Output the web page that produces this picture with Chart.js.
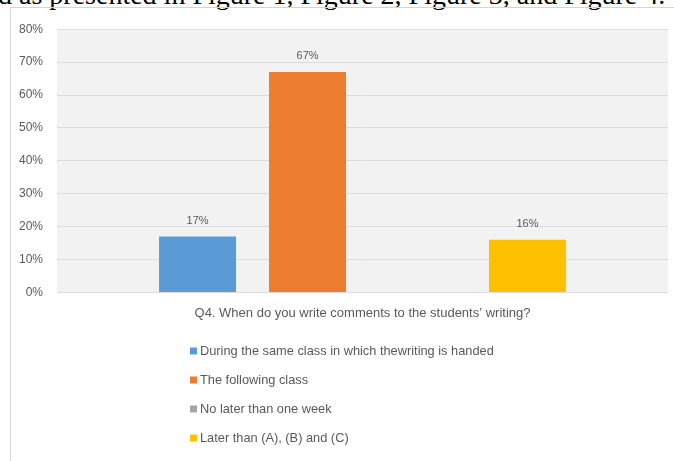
<!DOCTYPE html>
<html>
<head>
<meta charset="utf-8">
<script src="https://cdn.jsdelivr.net/npm/chart.js@4"></script>
<style>
  body { margin: 0; background: #fff; width: 674px; height: 461px; overflow: hidden; position: relative; }
  #pagetext { position: absolute; left: -2px; top: -21px; font-family: "Liberation Serif", serif; font-size: 28px; white-space: nowrap; color: #000; }
  #frame { position: absolute; left: 10px; top: 7px; width: 663px; height: 453px; border-left: 1px solid #d4d4d4; border-top: 1px solid #d4d4d4; }
</style>
</head>
<body>
<div id="pagetext">d as presented in Figure 1, Figure 2, Figure 3, and Figure 4.</div>
<div id="frame"><canvas id="chart_canvas" width="663" height="453"></canvas></div>
<script>
var categories = ["Q4. When do you write comments to the students\u2019 writing?"];
var seriesNames = [
    "During the same class in which thewriting is handed",
    "The following class",
    "No later than one week",
    "Later than (A), (B) and (C)"
];
var seriesValues = [[17], [67], [0], [16]];
var seriesColors = ['#5B9BD5', '#ED7D31', '#A5A5A5', '#FFC000'];
var yTicks = [0, 10, 20, 30, 40, 50, 60, 70, 80];

var textColor = '#595959';
var fontFamily = "'Liberation Sans', Arial, sans-serif";

// grey plot background like the office chart
var plotBackground = {
    id: 'plotBackground',
    beforeDraw: function (chart) {
        var ctx = chart.ctx, a = chart.chartArea;
        ctx.save();
        ctx.fillStyle = '#f2f2f2';
        ctx.fillRect(a.left, a.top, a.right - a.left, a.bottom - a.top);
        ctx.restore();
    }
};

// value labels above each bar (skip empty ones)
var barLabels = {
    id: 'barLabels',
    afterDatasetsDraw: function (chart) {
        var ctx = chart.ctx;
        ctx.save();
        ctx.fillStyle = textColor;
        ctx.font = '11px ' + fontFamily;
        ctx.textAlign = 'center';
        ctx.textBaseline = 'middle';
        chart.data.datasets.forEach(function (ds, i) {
            chart.getDatasetMeta(i).data.forEach(function (bar, j) {
                if (!ds.data[j]) return;
                ctx.fillText(ds.data[j] + '%', bar.x, bar.y - 16);
            });
        });
        ctx.restore();
    }
};

// vertical legend under the category label
var stackedLegend = {
    id: 'stackedLegend',
    afterDraw: function (chart) {
        var ctx = chart.ctx;
        var x0 = 179, y0 = 343, step = 29;
        ctx.save();
        ctx.font = '12.8px ' + fontFamily;
        ctx.textBaseline = 'middle';
        ctx.textAlign = 'left';
        chart.data.datasets.forEach(function (ds, i) {
            var y = y0 + i * step;
            ctx.fillStyle = ds.backgroundColor;
            ctx.fillRect(x0, y - 3.5, 7, 7);
            ctx.fillStyle = textColor;
            ctx.fillText(ds.label, x0 + 10, y);
        });
        ctx.restore();
    }
};

var datasets = seriesNames.map(function (name, i) {
    return {
        label: name,
        data: seriesValues[i],
        backgroundColor: seriesColors[i],
        categoryPercentage: 0.72,
        barPercentage: 0.7
    };
});

new Chart(document.getElementById('chart_canvas'), {
    type: 'bar',
    data: { labels: categories, datasets: datasets },
    plugins: [plotBackground, barLabels, stackedLegend],
    options: {
        responsive: false,
        animation: false,
        layout: { padding: { left: -6, right: 6, top: 6, bottom: 135 } },
        scales: {
            x: {
                grid: { display: false },
                border: { display: false },
                ticks: { color: textColor, font: { family: fontFamily, size: 13 }, padding: 5 }
            },
            y: {
                min: 0,
                max: 80,
                afterBuildTicks: function (axis) {
                    axis.ticks = yTicks.map(function (v) { return { value: v }; });
                },
                grid: { color: '#dcdcdc', drawTicks: false },
                border: { display: false },
                ticks: {
                    color: textColor,
                    font: { family: fontFamily, size: 12 },
                    padding: 14,
                    callback: function (v) { return v + '%'; }
                }
            }
        },
        plugins: {
            legend: { display: false },
            tooltip: { enabled: false }
        }
    }
});
</script>
</body>
</html>
